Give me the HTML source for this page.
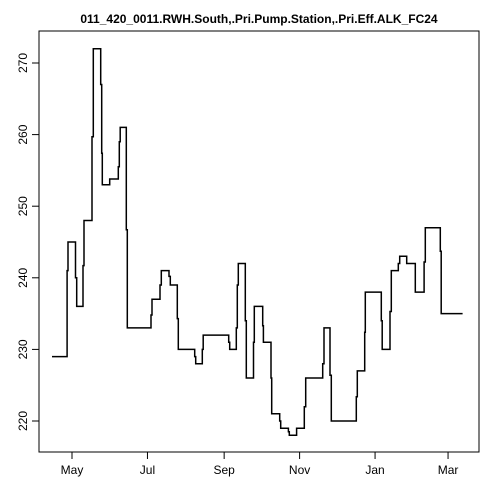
<!DOCTYPE html>
<html><head><meta charset="utf-8"><style>
html,body{margin:0;padding:0;background:#fff}
svg{display:block;font-family:"Liberation Sans",Arial,sans-serif}
</style></head><body>
<svg id="chart" width="480" height="480">
<text x="259" y="23" text-anchor="middle" font-size="12" font-weight="bold">011_420_0011.RWH.South,.Pri.Pump.Station,.Pri.Eff.ALK_FC24</text>
<rect x="39" y="31" width="440" height="421" fill="none" stroke="#000"/>
<g id="xaxis"></g>
<g id="yaxis"></g>
<g id="series"></g>
</svg>
<script>
const dayOffsets=[-16.2,-4,-3.2,2.8,3.8,8.9,9.7,16.2,17.2,23.2,24,24.5,30.5,37.4,38.2,39,43.9,44.7,63.9,64.7,71.1,72.2,78.4,79.5,85.1,85.9,99.2,100,105.3,106.1,126.7,127.5,132.8,133.6,134.4,140.1,140.9,146.7,147.4,154.2,154.7,160.9,161.4,167.9,168.7,174.9,175.7,181.6,187.8,188.9,202.7,203.7,208.6,209.6,229.8,230.6,236.6,237.1,250,250.8,257.1,258.1,263.8,264.9,270.6,277.5,284.6,285.6,297.7,298.5];
const values=[229,241,245,240,236,241.7,248,259.7,272,267,257.4,253,253.8,255.5,259,261,246.7,233,234.8,237,239,241,240.2,239,234.3,230,229,228,230,232,231,230,233,239,242,234,226,231,236,233.3,231,226,221,220,219,218.5,218,219,222,226,228,233,226.4,220,223.4,227,232.4,238,234,230,235.3,241,242,243,242,238,242.2,247,243.7,235];
const endDay=315.8;
const xTickDays=[0,61,123,184,245,304];
const xTickLabels=["May","Jul","Sep","Nov","Jan","Mar"];
const yTicks=[220,230,240,250,260,270];
const NS="http://www.w3.org/2000/svg";
const xs=d=>72+d*1.237;
const ys=v=>421-(v-220)*7.16;
const xa=document.getElementById('xaxis'),ya=document.getElementById('yaxis'),sg=document.getElementById('series');
function mk(tag,attrs,parent){const e=document.createElementNS(NS,tag);for(const k in attrs)e.setAttribute(k,attrs[k]);parent.appendChild(e);return e;}
mk('line',{x1:xs(xTickDays[0]),x2:xs(xTickDays[xTickDays.length-1]),y1:452,y2:452,stroke:'#000'},xa);
xTickDays.forEach((d,i)=>{
  const t=mk('line',{x1:xs(d),x2:xs(d),y1:452,y2:459,stroke:'#000'},xa);
  
  
  const l=mk('text',{x:xs(d),y:474,'text-anchor':'middle','font-size':'12'},xa);
  l.textContent=xTickLabels[i];
  
  
});
mk('line',{x1:39,x2:39,y1:ys(yTicks[0]),y2:ys(yTicks[yTicks.length-1]),stroke:'#000'},ya);
yTicks.forEach(v=>{
  const t=mk('line',{x1:32,x2:39,y1:ys(v),y2:ys(v),stroke:'#000'},ya);
  
  
  const l=mk('text',{x:27,y:ys(v),'text-anchor':'middle','font-size':'12',transform:`rotate(-90 27 ${ys(v)})`},ya);
  l.textContent=v;
  
  
});
let p='';
for(let i=0;i<values.length;i++){
  const x0=xs(dayOffsets[i]),y=ys(values[i]);
  const x1=xs(i+1<values.length?dayOffsets[i+1]:endDay);
  p+=(i===0?'M':'L')+x0.toFixed(1)+' '+y.toFixed(1)+'L'+x1.toFixed(1)+' '+y.toFixed(1);
}
const path=mk('path',{d:p,fill:'none',stroke:'#000','stroke-width':'1.5'},sg);


</script>
</body></html>
